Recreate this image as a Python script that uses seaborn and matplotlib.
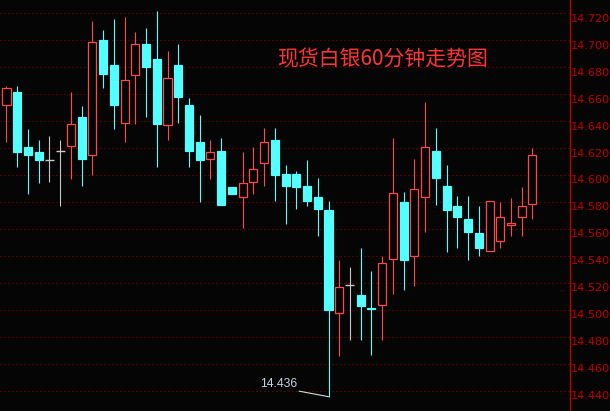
import numpy as np
import pandas as pd
import matplotlib
matplotlib.use("Agg")
import matplotlib.pyplot as plt
import matplotlib.transforms as mtransforms
from matplotlib.ticker import FormatStrFormatter
import seaborn as sns

# ---- data (hourly OHLC) ----
opens = [14.652, 14.662, 14.621, 14.617, 14.611, 14.618, 14.622, 14.643, 14.615, 14.700,
         14.682, 14.639, 14.674, 14.697, 14.686, 14.637, 14.682, 14.652, 14.625, 14.612,
         14.618, 14.591, 14.584, 14.595, 14.609, 14.626, 14.601, 14.601, 14.592, 14.584,
         14.574, 14.498, 14.519, 14.511, 14.502, 14.504, 14.538, 14.580, 14.540, 14.584,
         14.618, 14.592, 14.577, 14.568, 14.557, 14.544, 14.551, 14.563, 14.569, 14.579]
highs = [14.666, 14.666, 14.634, 14.626, 14.629, 14.626, 14.662, 14.651, 14.714, 14.708,
         14.716, 14.717, 14.706, 14.709, 14.722, 14.692, 14.697, 14.657, 14.645, 14.626,
         14.628, 14.591, 14.617, 14.621, 14.635, 14.635, 14.608, 14.603, 14.611, 14.598,
         14.581, 14.537, 14.532, 14.546, 14.529, 14.540, 14.628, 14.588, 14.612, 14.654,
         14.635, 14.608, 14.585, 14.585, 14.577, 14.581, 14.580, 14.583, 14.591, 14.620]
lows = [14.625, 14.606, 14.586, 14.594, 14.595, 14.577, 14.597, 14.592, 14.600, 14.665,
        14.634, 14.625, 14.638, 14.643, 14.606, 14.626, 14.639, 14.606, 14.580, 14.597,
        14.578, 14.586, 14.561, 14.586, 14.592, 14.581, 14.564, 14.575, 14.577, 14.555,
        14.436, 14.466, 14.478, 14.478, 14.467, 14.478, 14.512, 14.515, 14.518, 14.558,
        14.578, 14.543, 14.546, 14.537, 14.540, 14.544, 14.546, 14.555, 14.555, 14.568]
closes = [14.665, 14.617, 14.615, 14.611, 14.611, 14.618, 14.638, 14.612, 14.699, 14.675,
          14.652, 14.671, 14.697, 14.680, 14.638, 14.672, 14.658, 14.618, 14.611, 14.617,
          14.578, 14.586, 14.594, 14.605, 14.625, 14.600, 14.592, 14.591, 14.581, 14.575,
          14.500, 14.517, 14.519, 14.503, 14.501, 14.535, 14.587, 14.537, 14.590, 14.621,
          14.598, 14.574, 14.569, 14.558, 14.546, 14.581, 14.569, 14.565, 14.577, 14.615]
title_text = "现货白银60分钟走势图"
y_ticks = [14.440, 14.460, 14.480, 14.500, 14.520, 14.540, 14.560, 14.580,
           14.600, 14.620, 14.640, 14.660, 14.680, 14.700, 14.720]

df = pd.DataFrame({"idx": np.arange(len(opens)), "open": opens, "high": highs,
                   "low": lows, "close": closes})

BG = "#050505"
RED = "#ff4848"
CYAN = "#54ffff"
GRAY = "#c8c8c8"
AXRED = "#c00000"
GRIDRED = "#9a0000"

sns.set_style("dark", {"axes.facecolor": BG, "figure.facecolor": BG,
                       "axes.grid": False})
plt.rcParams["font.family"] = ["DejaVu Sans"]

fig = plt.figure(figsize=(6.1, 4.11), dpi=100)
ax = fig.add_axes([0, 0, 569.5 / 610, 1])
ax.set_facecolor(BG)

up = df[df.close > df.open]
dn = df[df.close < df.open]
dj = df[df.close == df.open]

W = 0.75
# wicks
ax.vlines(up.idx, up.low, up.high, colors=RED, lw=0.8, zorder=2)
ax.vlines(dn.idx, dn.low, dn.high, colors=CYAN, lw=0.8, zorder=2)
ax.vlines(dj.idx, dj.low, dj.high, colors=GRAY, lw=0.8, zorder=2)
# bodies
ax.bar(up.idx, up.close - up.open, bottom=up.open, width=W, facecolor=BG,
       edgecolor=RED, linewidth=0.9, zorder=3)
ax.bar(dn.idx, dn.open - dn.close, bottom=dn.close, width=W, facecolor=CYAN,
       edgecolor=CYAN, linewidth=0.85, zorder=3)
ax.hlines(dj.open, dj.idx - 0.42, dj.idx + 0.42, colors=GRAY, lw=1.0, zorder=3)

# limits
ax.set_xlim(-0.6055, 52.45)
ax.set_ylim(14.4254, 14.7299)

# axes styling
for s in ["left", "top", "bottom"]:
    ax.spines[s].set_visible(False)
ax.spines["right"].set_visible(True)
ax.spines["right"].set_color(AXRED)
ax.spines["right"].set_linewidth(1.0)
ax.set_xticks([])
ax.yaxis.tick_right()
ax.set_yticks(y_ticks)
ax.yaxis.set_major_formatter(FormatStrFormatter("%.3f"))
ax.tick_params(axis="y", length=0, pad=1.2, colors=AXRED, labelsize=8.1,
               labelcolor=AXRED)
off = mtransforms.ScaledTranslation(0, -3.0 / 72, fig.dpi_scale_trans)
for lab in ax.get_yticklabels():
    lab.set_transform(lab.get_transform() + off)

ax.grid(False)
for yv in y_ticks:
    ax.axhline(yv, color=GRIDRED, lw=0.72, linestyle=(0, (1, 3)), zorder=1)

# title
fig.text(382.5 / 610, 1 - 59 / 411, title_text, color="#ff3535", fontsize=15.0,
         family=["Noto Sans CJK SC", "DejaVu Sans"], ha="center", va="center")

# low annotation
imin = int(df.low.idxmin())
lowv = df.low.min()
ax.annotate("", xy=(imin, lowv), xytext=(-21.2, 4.0), textcoords="offset points",
            arrowprops=dict(arrowstyle="-", color="#d8d8d8", lw=0.8,
                            shrinkA=0, shrinkB=0), zorder=4)
ax.annotate(f"{lowv:.3f}", xy=(imin, lowv), xytext=(-22.2, 7.0),
            textcoords="offset points", ha="right", va="baseline",
            color="#c8d0e0", fontsize=8.7, family=["Liberation Sans"], zorder=4)

fig.savefig("out.png", dpi=100, facecolor=BG)
